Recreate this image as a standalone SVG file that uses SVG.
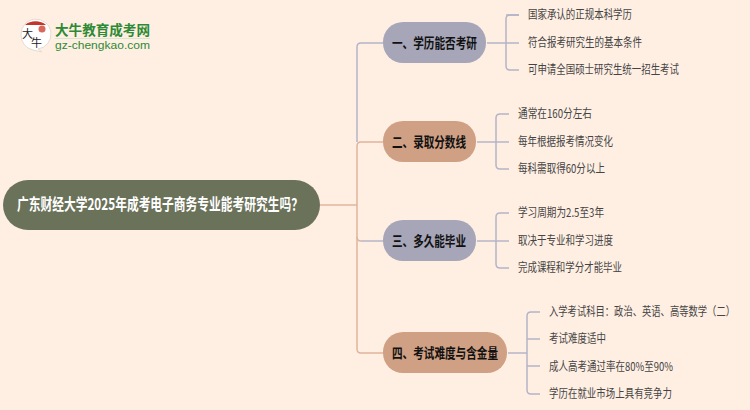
<svg xmlns="http://www.w3.org/2000/svg" width="750" height="410" viewBox="0 0 750 410">
<style>
text{font-family:"Noto Sans CJK SC","Liberation Sans",sans-serif}
.leaf{font-size:12px;fill:#444}
.br{font-size:14px;font-weight:700;fill:#111}
.c{fill:none;stroke-width:1.5}
.g{stroke:#b4b4c8}.o{stroke:#e0b49c}
</style>
<rect width="750" height="410" fill="#ffefe3"/>
<g id="logo">
<path d="M21 35a15 15 0 1 1 17 14l4 3-9-2a15 15 0 0 1-12-15z" fill="#fff" stroke="#e4dcd4"/>
<path d="M25 25a14 11 0 0 1 21 0z" fill="#c4352c"/>
<circle cx="42" cy="29" r="3.5" fill="#d8675c"/>
<text x="22" y="38" font-size="11" fill="#222">大</text>
<text x="31" y="47" font-size="11" fill="#222">牛</text>
<text x="55" y="35" font-size="13.5" font-weight="700" fill="#2d8a34" textLength="95" lengthAdjust="spacingAndGlyphs">大牛教育成考网</text>
<rect x="55" y="38" width="95" height="1" fill="#d8e6d0"/>
<text x="55" y="49" font-size="11" fill="#2d8a34" style="font-family:'Liberation Sans',sans-serif" textLength="95" lengthAdjust="spacingAndGlyphs">gz-chengkao.com</text>
</g>
<g id="connectors">
<path class="c o" d="M320 205H357"/>
<path class="c g" d="M383 43H361q-4 0-4 4V142"/>
<path class="c o" d="M383 142H361q-4 0-4 4V205"/>
<path class="c o" d="M357 205V237q0 4 4 4"/>
<path class="c g" d="M361 241H383"/>
<path class="c o" d="M357 237V349q0 4 4 4H383"/>
<path class="c g" d="M487 43H519M519 43M519 15q-13 0-13 0h-0q-0 0 0 0"/>
<path class="c g" d="M519 15H510q-4 0-4 4V66q0 4 4 4H519"/>
<path class="c g" d="M477 142H509"/>
<path class="c g" d="M509 114H500q-4 0-4 4V165q0 4 4 4H509"/>
<path class="c g" d="M477 241H509"/>
<path class="c g" d="M509 213H500q-4 0-4 4V264q0 4 4 4H509"/>
<path class="c g" d="M508 353H527"/>
<path class="c g" d="M540 312H531q-4 0-4 4V390q0 4 4 4H540M527 339H540M527 366H540"/>
</g>
<g id="root"><rect x="3" y="180" width="317" height="50" rx="25" fill="#6b725a"/>
<text x="17" y="210" font-size="16" font-weight="700" fill="#fff" textLength="286" lengthAdjust="spacingAndGlyphs">广东财经大学2025年成考电子商务专业能考研究生吗？</text></g>
<g id="b1"><rect x="383" y="22" width="103" height="41" rx="20" fill="#a6a6b8"/>
<text class="br" x="392" y="48" textLength="85" lengthAdjust="spacingAndGlyphs">一、学历能否考研</text></g>
<g id="b2"><rect x="383" y="121" width="93" height="41" rx="20" fill="#d0a084"/>
<text class="br" x="392" y="147" textLength="74" lengthAdjust="spacingAndGlyphs">二、录取分数线</text></g>
<g id="b3"><rect x="383" y="220" width="93" height="41" rx="20" fill="#a6a6b8"/>
<text class="br" x="392" y="246" textLength="74" lengthAdjust="spacingAndGlyphs">三、多久能毕业</text></g>
<g id="b4"><rect x="383" y="332" width="124" height="41" rx="20" fill="#d0a084"/>
<text class="br" x="392" y="358" textLength="106" lengthAdjust="spacingAndGlyphs">四、考试难度与含金量</text></g>
<g id="l11"><text class="leaf" x="528" y="19" textLength="104" lengthAdjust="spacingAndGlyphs">国家承认的正规本科学历</text></g>
<g id="l12"><text class="leaf" x="528" y="47" textLength="114" lengthAdjust="spacingAndGlyphs">符合报考研究生的基本条件</text></g>
<g id="l13"><text class="leaf" x="528" y="74" textLength="151" lengthAdjust="spacingAndGlyphs">可申请全国硕士研究生统一招生考试</text></g>
<g id="l21"><text class="leaf" x="518" y="118" textLength="74" lengthAdjust="spacingAndGlyphs">通常在160分左右</text></g>
<g id="l22"><text class="leaf" x="518" y="146" textLength="95" lengthAdjust="spacingAndGlyphs">每年根据报考情况变化</text></g>
<g id="l23"><text class="leaf" x="518" y="173" textLength="87" lengthAdjust="spacingAndGlyphs">每科需取得60分以上</text></g>
<g id="l31"><text class="leaf" x="518" y="217" textLength="86" lengthAdjust="spacingAndGlyphs">学习周期为2.5至3年</text></g>
<g id="l32"><text class="leaf" x="518" y="245" textLength="95" lengthAdjust="spacingAndGlyphs">取决于专业和学习进度</text></g>
<g id="l33"><text class="leaf" x="518" y="272" textLength="104" lengthAdjust="spacingAndGlyphs">完成课程和学分才能毕业</text></g>
<g id="l41"><text class="leaf" x="549" y="316" textLength="186" lengthAdjust="spacingAndGlyphs">入学考试科目：政治、英语、高等数学（二）</text></g>
<g id="l42"><text class="leaf" x="549" y="343" textLength="57" lengthAdjust="spacingAndGlyphs">考试难度适中</text></g>
<g id="l43"><text class="leaf" x="549" y="371" textLength="124" lengthAdjust="spacingAndGlyphs">成人高考通过率在80%至90%</text></g>
<g id="l44"><text class="leaf" x="549" y="398" textLength="123" lengthAdjust="spacingAndGlyphs">学历在就业市场上具有竞争力</text></g>
</svg>
